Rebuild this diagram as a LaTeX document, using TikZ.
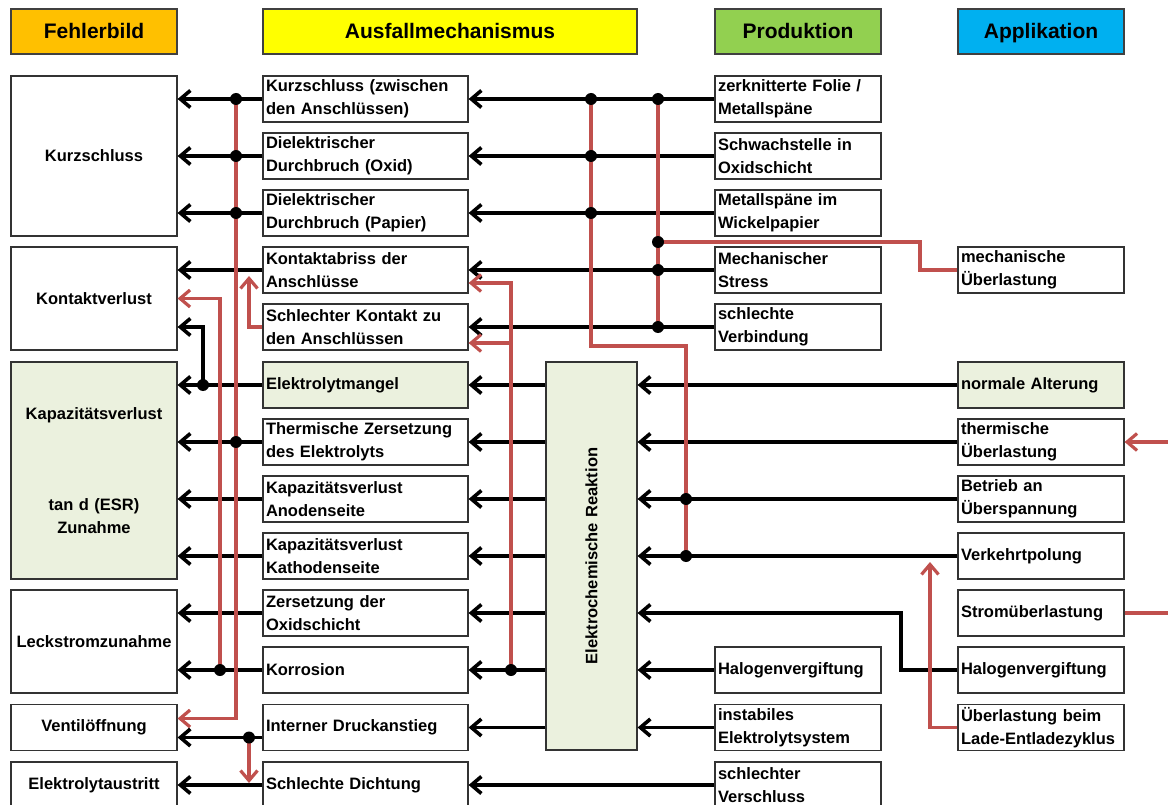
\documentclass[tikz,border=0pt]{standalone}
\usepackage{fontspec}
\setmainfont{Liberation Sans}
\usetikzlibrary{arrows.meta}
\definecolor{hdrorange}{HTML}{FFC000}
\definecolor{hdryellow}{HTML}{FFFF00}
\definecolor{hdrgreen}{HTML}{92D050}
\definecolor{hdrblue}{HTML}{00B0F0}
\definecolor{palegreen}{HTML}{EBF1DE}
\definecolor{riskred}{HTML}{C0504D}

\begin{document}
\begin{tikzpicture}[
    x=1pt, y=-1pt,
    every node/.style={font=\fontsize{16.5}{23}\selectfont\bfseries},
    header/.style={rectangle, draw=black!75, line width=1.2pt, minimum height=45pt, inner sep=0pt, text height=15pt, text depth=0pt, font=\fontsize{21}{25}\selectfont\bfseries},
    fbox/.style={rectangle, draw=black!80, line width=1.2pt, fill=white, text width=160pt, inner xsep=3pt, inner ysep=0pt, align=center},
    mbox/.style={rectangle, draw=black!80, line width=1.2pt, fill=white, text width=199pt, inner xsep=3pt, inner ysep=0pt, minimum height=46pt, align=left},
    pbox/.style={mbox, text width=160pt},
    link/.style={line width=3.6pt, -{Straight Barb[length=10pt,width=17pt]}},
    risk/.style={link, line width=3.2pt, draw=riskred},
    riskline/.style={line width=3.2pt, draw=riskred}
  ]
    \useasboundingbox (0,0) rectangle (1168,805);

    % Column headers
    \node[header, fill=hdrorange, minimum width=166pt] (hfehler) at (94,31.5) {Fehlerbild};
    \node[header, fill=hdryellow, minimum width=374pt] (hausfall) at (450,31.5) {Ausfallmechanismus};
    \node[header, fill=hdrgreen, minimum width=166pt] (hprod) at (798,31.5) {Produktion};
    \node[header, fill=hdrblue, minimum width=166pt] (happ) at (1041,31.5) {Applikation};

    % Fehlerbild
    \node[fbox, minimum height=160pt] (f1) at (94,156) {Kurzschluss};
    \node[fbox, minimum height=103pt] (f2) at (94,298.5) {Kontaktverlust};
    \node[fbox, fill=palegreen, minimum height=217pt] (f3) at (94,470.5) {Kapazitätsverlust\\[68pt]tan d (ESR)\\Zunahme};
    \node[fbox, minimum height=103pt] (f4) at (94,641.5) {Leckstromzunahme};
    \node[fbox, minimum height=46pt] (f5) at (94,727.5) {Ventilöffnung};
    \node[fbox, minimum height=46pt] (f6) at (94,785) {Elektrolytaustritt};

    % Ausfallmechanismus
    \node[mbox] (m1) at (365.5,99) {Kurzschluss (zwischen\\den Anschlüssen)};
    \node[mbox] (m2) at (365.5,156) {Dielektrischer\\Durchbruch (Oxid)};
    \node[mbox] (m3) at (365.5,213) {Dielektrischer\\Durchbruch (Papier)};
    \node[mbox] (m4) at (365.5,270) {Kontaktabriss der\\Anschlüsse};
    \node[mbox] (m5) at (365.5,327) {Schlechter Kontakt zu\\den Anschlüssen};
    \node[mbox, fill=palegreen] (m6) at (365.5,385) {Elektrolytmangel};
    \node[mbox] (m7) at (365.5,442) {Thermische Zersetzung\\des Elektrolyts};
    \node[mbox] (m8) at (365.5,499) {Kapazitätsverlust\\Anodenseite};
    \node[mbox] (m9) at (365.5,556) {Kapazitätsverlust\\Kathodenseite};
    \node[mbox] (m10) at (365.5,613) {Zersetzung der\\Oxidschicht};
    \node[mbox] (m11) at (365.5,670) {Korrosion};
    \node[mbox] (m12) at (365.5,727.5) {Interner Druckanstieg};
    \node[mbox] (m13) at (365.5,785) {Schlechte Dichtung};

    % Elektrochemische Reaktion
    \node[mbox, fill=palegreen, text width=85pt, minimum height=388pt, align=center] (ec) at (591.5,556) {\rotatebox{90}{Elektrochemische Reaktion}};

    % Produktion
    \node[pbox] (p1) at (798,99) {zerknitterte Folie /\\Metallspäne};
    \node[pbox] (p2) at (798,156) {Schwachstelle in\\Oxidschicht};
    \node[pbox] (p3) at (798,213) {Metallspäne im\\Wickelpapier};
    \node[pbox] (p4) at (798,270) {Mechanischer\\Stress};
    \node[pbox] (p5) at (798,327) {schlechte\\Verbindung};
    \node[pbox] (p11) at (798,670) {Halogenvergiftung};
    \node[pbox] (p12) at (798,727.5) {instabiles\\Elektrolytsystem};
    \node[pbox] (p13) at (798,785) {schlechter\\Verschluss};

    % Applikation
    \node[pbox] (a4) at (1041,270) {mechanische\\Überlastung};
    \node[pbox, fill=palegreen] (a6) at (1041,385) {normale Alterung};
    \node[pbox] (a7) at (1041,442) {thermische\\Überlastung};
    \node[pbox] (a8) at (1041,499) {Betrieb an\\Überspannung};
    \node[pbox] (a9) at (1041,556) {Verkehrtpolung};
    \node[pbox] (a10) at (1041,613) {Stromüberlastung};
    \node[pbox] (a11) at (1041,670) {Halogenvergiftung};
    \node[pbox] (a12) at (1041,727.5) {Überlastung beim\\Lade-Entladezyklus};

    % Bus positions
    \coordinate (elec) at (203,0);
    \coordinate (korrbus) at (220,0);
    \coordinate (ventbus) at (236,0);
    \coordinate (contbus) at (249,0);
    \coordinate (corrmid) at (511,0);
    \coordinate (jog) at (591,346);
    \coordinate (mechbus) at (658,242);
    \coordinate (volt) at (686,346);
    \coordinate (hal) at (901,0);
    \coordinate (mechjog) at (920,0);
    \coordinate (cycbus) at (930,0);
    \coordinate (edge) at (1168,0);

    % Black cause chains
    \foreach \i in {1,2,3,4,5,13}
      \draw[link] (p\i.west) -- (m\i.east);
    \foreach \i in {11,12}
      \draw[link] (p\i.west) -- (p\i.west -| ec.east);
    \foreach \i in {6,7,8,9}
      \draw[link] (a\i.west) -- (a\i.west -| ec.east);
    \draw[link] (a11.west) -- (a11.west -| hal) |- (m10.east -| ec.east);
    \foreach \i in {6,...,12}
      \draw[link] (m\i.east -| ec.west) -- (m\i.east);

    \foreach \i in {1,2,3}
      \draw[link] (m\i.west) -- (m\i.west -| f1.east);
    \draw[link] (m4.west) -- (m4.west -| f2.east);
    \draw[link] (m6.west -| elec) |- (m5.west -| f2.east);
    \foreach \i in {6,...,9}
      \draw[link] (m\i.west) -- (m\i.west -| f3.east);
    \foreach \i in {10,11}
      \draw[link] (m\i.west) -- (m\i.west -| f4.east);
    \draw[link] ([yshift=-10pt]m12.west) -- ([yshift=-10pt]m12.west -| f5.east);
    \draw[link] (m13.west) -- (m13.west -| f6.east);

    % Red cross links
    \draw[risk] (m1.west -| ventbus) |- ([yshift=9pt]f5.east);
    \draw[risk] (m11.west -| korrbus) |- (f2.east);
    \draw[risk] (m5.west) -| ([yshift=-6pt]m4.west -| contbus);
    \draw[risk] ([yshift=-10pt]m12.west -| contbus) -- ([yshift=2pt]m13.west -| contbus);
    \draw[risk] (m11.east -| corrmid) |- ([yshift=-13pt]m4.east);
    \draw[risk] ([yshift=-16pt]m5.east -| corrmid) -- ([yshift=-16pt]m5.east);
    \draw[riskline] (m9.east -| volt) -- (volt) -| (m1.east -| jog);
    \draw[riskline] (m1.east -| mechbus) -- (m5.east -| mechbus);
    \draw[riskline] (mechbus) -| (a4.west -| mechjog) -- (a4.west);
    \draw[risk] (a7.east -| edge) -- (a7.east);
    \draw[riskline] (a10.east) -- (a10.east -| edge);
    \draw[risk] (a12.west) -| ([yshift=-6pt]a9.west -| cycbus);

    % Junction dots
    \foreach \i in {1,2,3,7}
      \fill (m\i.west -| ventbus) circle (6pt);
    \fill (m6.west -| elec) circle (6pt);
    \fill (m11.west -| korrbus) circle (6pt);
    \fill ([yshift=-10pt]m12.west -| contbus) circle (6pt);
    \foreach \i in {1,2,3}
      \fill (m\i.east -| jog) circle (6pt);
    \foreach \i in {1,4,5}
      \fill (m\i.east -| mechbus) circle (6pt);
    \fill (mechbus) circle (6pt);
    \fill (m11.east -| corrmid) circle (6pt);
    \foreach \i in {8,9}
      \fill (m\i.east -| volt) circle (6pt);
\end{tikzpicture}
\end{document}
